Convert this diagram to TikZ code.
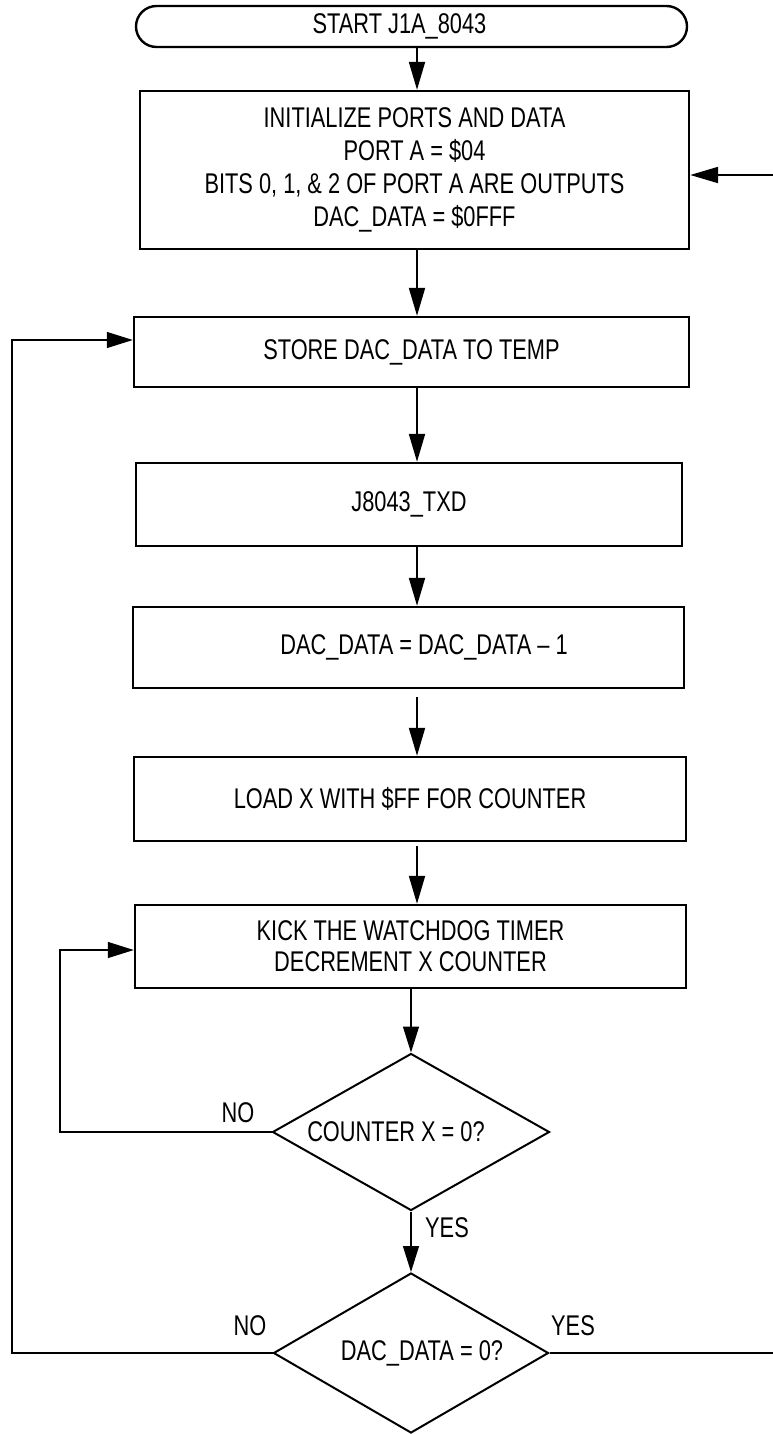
\documentclass[tikz,border=0pt]{standalone}
\usepackage{fontspec}
\setmainfont[FakeStretch=0.765]{Liberation Sans}
\usetikzlibrary{arrows.meta,shapes.geometric}
\begin{document}
\begin{tikzpicture}[x=1pt,y=-1pt,
  every node/.style={font=\fontsize{28.5}{33}\selectfont},
  procbox/.style={draw, line width=2.4pt, inner sep=0pt, align=center},
  decision/.style={draw, diamond, shape aspect=1.75, line width=2pt, inner sep=0pt, align=center},
  flow/.style={line width=2pt, -{Triangle[length=28pt,width=16pt]}},
  thinflow/.style={line width=1.3pt, -{Triangle[length=26pt,width=16pt]}},
  thinline/.style={line width=1.3pt},
  lbl/.style={inner sep=0pt}]
\useasboundingbox (0,0) rectangle (773,1435);

\node[procbox, rounded corners=20.5pt, minimum width=551pt, minimum height=41pt] (start) at (411.5,26.5) {START J1A\_8043\hspace*{24pt}};
\node[procbox, minimum width=549pt, minimum height=158pt] (init) at (414.5,170) {INITIALIZE PORTS AND DATA\\PORT A = \$04\\BITS 0, 1, \& 2 OF PORT A ARE OUTPUTS\\DAC\_DATA = \$0FFF};
\node[procbox, minimum width=555pt, minimum height=70pt] (store) at (411.5,352) {STORE DAC\_DATA TO TEMP};
\node[procbox, minimum width=546pt, minimum height=83pt] (txd) at (409,504.5) {J8043\_TXD};
\node[procbox, minimum width=551pt, minimum height=81pt] (dec) at (408.5,647.5) {\hspace*{31pt}DAC\_DATA = DAC\_DATA – 1};
\node[procbox, minimum width=552pt, minimum height=84pt] (load) at (410,799) {LOAD X WITH \$FF FOR COUNTER};
\node[procbox, minimum width=551pt, minimum height=83pt, font=\fontsize{28.5}{31}\selectfont] (kick) at (410.5,946.5) {KICK THE WATCHDOG TIMER\\DECREMENT X COUNTER};
\node[decision, minimum width=277pt, minimum height=157pt] (cnt) at (411,1132) {COUNTER X = 0?\hspace*{30pt}};
\node[decision, minimum width=275pt, minimum height=160pt] (dz) at (411,1353) {\hspace*{22pt}DAC\_DATA = 0?};

\node[lbl] (no1) at (238,1113) {NO};
\node[lbl] (yes1) at (447,1228) {YES};
\node[lbl] (no2) at (250,1326) {NO};
\node[lbl] (yes2) at (573,1326) {YES};

\coordinate (ax) at (417,0);
\draw[flow] (start.south -| ax) -- (init.north -| ax);
\draw[flow] (init.south -| ax) -- (store.north -| ax);
\draw[flow] (store.south -| ax) -- (txd.north -| ax);
\draw[flow] (txd.south -| ax) -- (dec.north -| ax);
\draw[flow, shorten <=8pt] (dec.south -| ax) -- (load.north -| ax);
\draw[flow, shorten <=4pt] (load.south -| ax) -- (kick.north -| ax);
\draw[thinflow] (kick.south -| cnt.north) -- (cnt.north);
\draw[thinflow] (cnt.south) -- (dz.north);

\coordinate (ol) at (12,340);
\draw[thinflow] (dz.west) -| (ol) -- (ol -| store.west);
\coordinate (il) at (60,950);
\draw[thinflow] (cnt.west) -| (il) -- (il -| kick.west);

\coordinate (r1) at (773,175);
\draw[flow] (r1) -- (r1 -| init.east);
\coordinate (r2) at (773,1353);
\draw[thinline] (dz.east) -- (r2);
\end{tikzpicture}
\end{document}
